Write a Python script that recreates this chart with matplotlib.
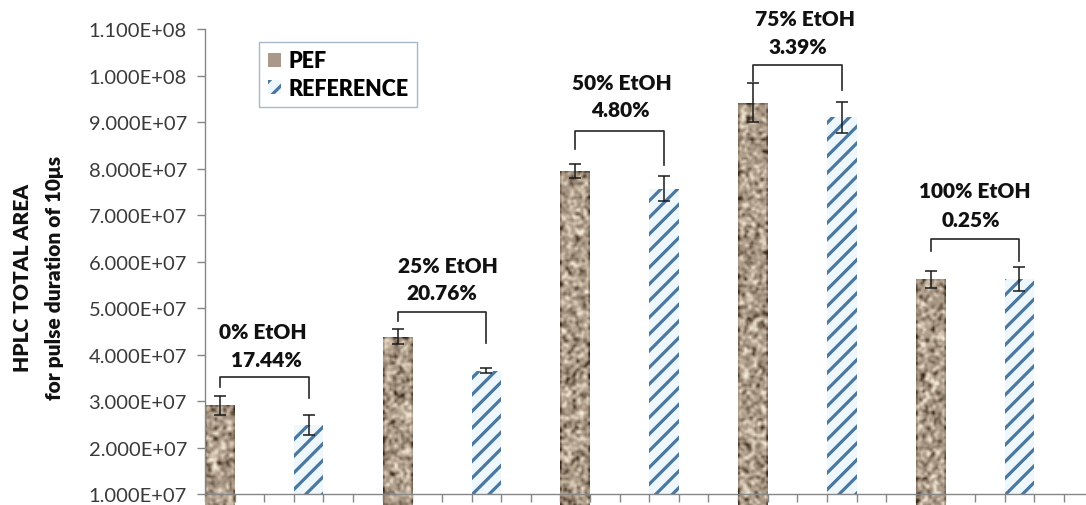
import matplotlib
matplotlib.use("Agg")
import matplotlib.pyplot as plt
from matplotlib.ticker import FuncFormatter, MultipleLocator
from matplotlib.colors import LinearSegmentedColormap
from matplotlib.patches import Patch
import numpy as np

# data
groups = ["0% EtOH", "25% EtOH", "50% EtOH", "75% EtOH", "100% EtOH"]
diffs = ["17.44%", "20.76%", "4.80%", "3.39%", "0.25%"]
pef = [2.91e7, 4.38e7, 7.94e7, 9.41e7, 5.62e7]
pef_err = [2.0e6, 1.6e6, 1.5e6, 4.2e6, 1.8e6]
ref = [2.48e7, 3.65e7, 7.57e7, 9.10e7, 5.62e7]
ref_err = [2.2e6, 0.5e6, 2.7e6, 3.3e6, 2.6e6]

# bracket levels: top, left leg end, right leg end
br_top = [3.52e7, 4.91e7, 8.81e7, 1.023e8, 6.48e7]
br_left = [3.30e7, 4.71e7, 8.42e7, 9.88e7, 6.23e7]
br_right = [3.06e7, 4.25e7, 8.08e7, 9.69e7, 6.02e7]

plt.rcParams["font.family"] = ["Lato", "DejaVu Sans"]
plt.rcParams["hatch.linewidth"] = 2.3

fig = plt.figure(figsize=(10.86, 5.06), dpi=100)
ax = fig.add_axes([0.1888, 0.0217, 0.8112, 0.919])

n = len(groups)
x_pef = np.arange(n) * 6 + 0.5
x_ref = np.arange(n) * 6 + 3.5

ref_bars = ax.bar(x_ref, ref, width=1.0, bottom=0, color="#eef8fc",
                  edgecolor="#4a78a0", linewidth=0, hatch="//", zorder=2)
pef_bars = ax.bar(x_pef, pef, width=1.0, bottom=0, color="#a8998a",
                  linewidth=0, zorder=2)

# granite texture for PEF bars (about 2 px per cell)
rng = np.random.default_rng(11)
granite = LinearSegmentedColormap.from_list(
    "granite", ["#33261b", "#75634f", "#9f8e7c", "#b5a591", "#d8cab6", "#f3eadb"])
k = np.array([0.25, 0.5, 0.25])


def texture(rows, cols):
    t = rng.random((rows, cols))
    t = np.apply_along_axis(lambda r: np.convolve(r, k, mode="same"), 1, t)
    t = np.apply_along_axis(lambda c: np.convolve(c, k, mode="same"), 0, t)
    t = (t - t.mean()) / t.std()
    return t


px_per_unit = 46.5 / 1e7
for b in pef_bars:
    x0, w, h = b.get_x(), b.get_width(), b.get_height()
    rows = int(h * px_per_unit / 1.7)
    im = ax.imshow(texture(rows, 18), cmap=granite, extent=(x0, x0 + w, 0, h),
                   aspect="auto", interpolation="bilinear", zorder=2.1,
                   vmin=-2.5, vmax=2.5)
    im.set_clip_path(b)

ax.errorbar(x_pef, pef, yerr=pef_err, fmt="none", ecolor="#1a1a1a",
            elinewidth=1.1, capsize=4, capthick=1.1, zorder=3)
ax.errorbar(x_ref, ref, yerr=ref_err, fmt="none", ecolor="#1a1a1a",
            elinewidth=1.1, capsize=4, capthick=1.1, zorder=3)

# brackets and labels
lbl_x = [1.96, 8.20, 14.07, 20.26, 26.0]
lbl_y = [4.49e7, 5.925e7, 9.85e7, 1.123e8, 7.52e7]
pct_x = [2.09, 7.99, 14.01, 20.01, 25.85]
pct_y = [3.89e7, 5.34e7, 9.26e7, 1.062e8, 6.91e7]
for i in range(n):
    ax.plot([x_pef[i], x_pef[i], x_ref[i], x_ref[i]],
            [br_left[i], br_top[i], br_top[i], br_right[i]],
            color="#262626", lw=1.2, zorder=3, clip_on=False)
    ax.text(lbl_x[i], lbl_y[i], groups[i], ha="center", va="center",
            fontsize=15, fontweight="heavy", color="#111111", clip_on=False)
    ax.text(pct_x[i], pct_y[i], diffs[i], ha="center", va="center",
            fontsize=15, fontweight="heavy", color="#111111", clip_on=False)

ax.set_ylim(1e7, 1.1e8)
ax.set_xlim(0, 29.75)
ax.yaxis.set_major_locator(MultipleLocator(1e7))
ax.yaxis.set_major_formatter(FuncFormatter(lambda v, p: "%.3E" % v))
ax.set_xticks(np.arange(0, 30))
ax.set_xticklabels([])
ax.tick_params(axis="y", direction="out", length=6, width=1, color="#868686",
               labelsize=14.5, labelcolor="#3a3a3a", pad=7)
ax.tick_params(axis="x", direction="out", length=6, width=1, color="#868686")
for s in ["top", "right"]:
    ax.spines[s].set_visible(False)
for s in ["left", "bottom"]:
    ax.spines[s].set_color("#868686")
    ax.spines[s].set_linewidth(1)

fig.text(0.021, 0.45, "HPLC TOTAL AREA", rotation=90, ha="center", va="center",
         fontsize=15, fontweight="heavy", color="#111111")
fig.text(0.050, 0.45, "for pulse duration of 10\u03bcs", rotation=90, ha="center",
         va="center", fontsize=15, fontweight="heavy", color="#111111")

handles = [Patch(facecolor="#a8998a", edgecolor="none", label="PEF"),
           Patch(facecolor="#eef8fc", edgecolor="#4a78a0", linewidth=0,
                 hatch="//", label="REFERENCE")]
leg = ax.legend(handles=handles, loc="upper left",
                bbox_to_anchor=((259 - 205) / 881, (506 - 42.7 - 11) / 465),
                frameon=True, fancybox=False, handlelength=0.6,
                handleheight=0.6, handletextpad=0.35, borderpad=0.4,
                labelspacing=0.3, borderaxespad=0,
                prop={"weight": "heavy", "size": 15.5})
leg.get_frame().set_edgecolor("#8ea6bd")
leg.get_frame().set_linewidth(1)

fig.savefig("out.png", dpi=100)
